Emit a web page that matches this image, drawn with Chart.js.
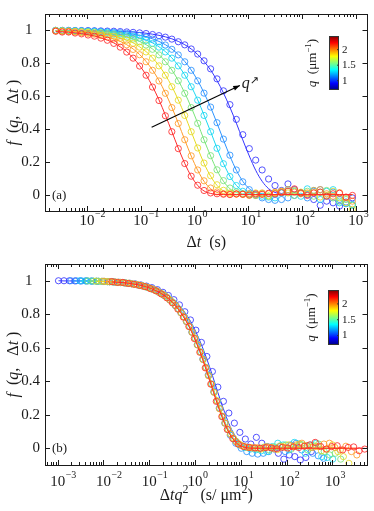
<!DOCTYPE html>
<html>
<head>
<meta charset="utf-8">
<script src="https://cdn.jsdelivr.net/npm/chart.js@4.4.0/dist/chart.umd.min.js"></script>
<style>
  html, body { margin: 0; padding: 0; background: #fff; }
  #wrap { position: relative; width: 374px; height: 511px; overflow: hidden; }
  #wrap canvas { position: absolute; left: 0; }
</style>
</head>
<body>
<div id="wrap">
  <canvas id="chart-a" style="top:0" width="374" height="262"></canvas>
  <canvas id="chart-b" style="top:250px" width="374" height="261"></canvas>
</div>
<script>
// lag times (s), shared by every q
const lagTimes = [0.00263, 0.00347, 0.00457, 0.00603, 0.00794, 0.0105, 0.0138, 0.0182, 0.0240, 0.0316,
  0.0417, 0.0550, 0.0724, 0.0955, 0.126, 0.166, 0.219, 0.288, 0.380, 0.501,
  0.661, 0.871, 1.15, 1.51, 2.00, 2.63, 3.47, 4.57, 6.03, 7.94,
  10.5, 13.8, 18.2, 24.0, 31.6, 41.7, 55.0, 72.4, 95.5, 126,
  166, 219, 288, 380, 501, 661, 871];

// wave vectors (um^-1), low to high
const qValues = [0.63, 0.86, 1.08, 1.32, 1.62, 1.98, 2.41];
const curveColors = ['#3535ff', '#2a92ff', '#1ad8f2', '#78e478', '#e6da22', '#ff9c2a', '#ff2a2a'];

// measured f(q, dt)
const fBlue = [1.000, 1.000, 1.000, 0.999, 0.999, 0.999, 0.998, 0.997, 0.996, 0.995,
  0.993, 0.991, 0.988, 0.985, 0.981, 0.975, 0.968, 0.959, 0.947, 0.931,
  0.912, 0.887, 0.856, 0.815, 0.766, 0.705, 0.632, 0.548, 0.458, 0.365,
  0.280, 0.210, 0.150, 0.095, 0.055, 0.025, 0.065, 0.030, 0.010, 0.000,
  -0.030, -0.065, -0.040, -0.050, -0.070, -0.055, -0.020];
const fLightBlue = [1.000, 1.000, 0.999, 0.999, 0.998, 0.997, 0.996, 0.994, 0.992, 0.989,
  0.986, 0.982, 0.976, 0.969, 0.959, 0.947, 0.931, 0.911, 0.885, 0.851,
  0.809, 0.757, 0.693, 0.618, 0.533, 0.438, 0.338, 0.240, 0.150, 0.078,
  0.030, 0.000, -0.020, -0.030, -0.035, -0.030, -0.020, -0.005, 0.010, -0.020,
  0.020, 0.030, -0.010, 0.015, -0.030, -0.045, -0.060];
const fCyan = [1.000, 0.999, 0.998, 0.997, 0.996, 0.994, 0.993, 0.990, 0.988, 0.984,
  0.979, 0.972, 0.964, 0.953, 0.939, 0.921, 0.898, 0.869, 0.831, 0.784,
  0.727, 0.657, 0.575, 0.482, 0.383, 0.282, 0.188, 0.110, 0.055, 0.020,
  0.004, -0.005, -0.010, -0.015, -0.020, 0.010, 0.030, 0.020, -0.010, 0.035,
  0.025, -0.030, 0.020, 0.030, -0.050, -0.055, -0.065];
const fGreen = [0.999, 0.998, 0.997, 0.996, 0.994, 0.992, 0.989, 0.986, 0.982, 0.976,
  0.969, 0.959, 0.947, 0.931, 0.911, 0.885, 0.851, 0.809, 0.757, 0.693,
  0.617, 0.530, 0.434, 0.334, 0.237, 0.151, 0.085, 0.040, 0.016, 0.006,
  0.002, -0.005, 0.006, -0.010, 0.008, 0.015, 0.020, -0.005, 0.010, 0.020,
  -0.010, 0.015, 0.025, -0.020, -0.040, -0.030, -0.065];
const fYellow = [0.998, 0.997, 0.995, 0.993, 0.991, 0.988, 0.985, 0.979, 0.973, 0.965,
  0.953, 0.940, 0.922, 0.898, 0.869, 0.831, 0.784, 0.727, 0.657, 0.575,
  0.482, 0.383, 0.284, 0.192, 0.115, 0.060, 0.026, 0.010, 0.004, 0.002,
  -0.005, 0.010, 0.005, -0.008, 0.010, 0.020, 0.010, 0.025, 0.015, 0.005,
  0.012, -0.015, -0.005, 0.020, -0.020, -0.050, -0.090];
const fOrange = [0.997, 0.994, 0.993, 0.990, 0.986, 0.982, 0.977, 0.969, 0.960, 0.948,
  0.931, 0.912, 0.884, 0.852, 0.809, 0.757, 0.692, 0.617, 0.530, 0.433,
  0.334, 0.236, 0.150, 0.084, 0.040, 0.016, 0.006, 0.002, 0.003, 0.002,
  0.006, -0.004, 0.010, 0.005, 0.015, 0.020, 0.030, 0.015, 0.005, 0.010,
  0.025, 0.030, 0.005, -0.010, 0.012, -0.020, -0.040];
const fRed = [0.995, 0.990, 0.990, 0.984, 0.979, 0.972, 0.965, 0.953, 0.940, 0.921,
  0.898, 0.868, 0.831, 0.783, 0.727, 0.655, 0.573, 0.480, 0.383, 0.280,
  0.189, 0.112, 0.057, 0.025, 0.010, 0.005, 0.002, 0.000, 0.004, 0.002,
  -0.003, 0.005, 0.001, 0.008, 0.004, 0.012, 0.020, 0.035, 0.010, -0.005,
  0.010, 0.015, -0.010, 0.005, 0.008, -0.015, -0.005];

// fitted curves at the same lag times
const fitBlue = [1.000, 0.999, 0.999, 0.999, 0.999, 0.999, 0.998, 0.998, 0.997, 0.996,
  0.994, 0.992, 0.990, 0.987, 0.983, 0.977, 0.970, 0.961, 0.949, 0.933,
  0.913, 0.887, 0.853, 0.811, 0.759, 0.695, 0.619, 0.532, 0.435, 0.333,
  0.235, 0.148, 0.081, 0.036, 0.013, 0.003, 0.001, 0, 0, 0,
  0, 0, 0, 0, 0, 0, 0];
const fitLightBlue = [0.999, 0.999, 0.999, 0.998, 0.998, 0.997, 0.996, 0.994, 0.992, 0.990,
  0.987, 0.983, 0.977, 0.970, 0.961, 0.949, 0.933, 0.913, 0.887, 0.853,
  0.811, 0.759, 0.695, 0.619, 0.532, 0.435, 0.333, 0.235, 0.148, 0.081,
  0.036, 0.013, 0.003, 0.001, 0, 0, 0, 0, 0, 0,
  0, 0, 0, 0, 0, 0, 0];
const fitCyan = [0.999, 0.998, 0.998, 0.997, 0.996, 0.995, 0.993, 0.991, 0.989, 0.985,
  0.980, 0.974, 0.966, 0.955, 0.941, 0.924, 0.900, 0.871, 0.833, 0.786,
  0.729, 0.659, 0.577, 0.484, 0.384, 0.283, 0.190, 0.112, 0.056, 0.022,
  0.007, 0.001, 0, 0, 0, 0, 0, 0, 0, 0,
  0, 0, 0, 0, 0, 0, 0];
const fitGreen = [0.998, 0.998, 0.997, 0.996, 0.994, 0.992, 0.990, 0.987, 0.983, 0.977,
  0.970, 0.961, 0.949, 0.933, 0.913, 0.887, 0.853, 0.811, 0.759, 0.695,
  0.619, 0.532, 0.435, 0.333, 0.235, 0.148, 0.081, 0.036, 0.013, 0.003,
  0.001, 0, 0, 0, 0, 0, 0, 0, 0, 0,
  0, 0, 0, 0, 0, 0, 0];
const fitYellow = [0.997, 0.996, 0.995, 0.993, 0.991, 0.989, 0.985, 0.980, 0.974, 0.966,
  0.955, 0.941, 0.924, 0.900, 0.871, 0.833, 0.786, 0.729, 0.659, 0.577,
  0.484, 0.384, 0.283, 0.190, 0.112, 0.056, 0.022, 0.007, 0.001, 0,
  0, 0, 0, 0, 0, 0, 0, 0, 0, 0,
  0, 0, 0, 0, 0, 0, 0];
const fitOrange = [0.996, 0.994, 0.992, 0.990, 0.987, 0.983, 0.977, 0.970, 0.961, 0.949,
  0.933, 0.913, 0.887, 0.853, 0.811, 0.759, 0.695, 0.619, 0.532, 0.435,
  0.333, 0.235, 0.148, 0.081, 0.036, 0.013, 0.003, 0.001, 0, 0,
  0, 0, 0, 0, 0, 0, 0, 0, 0, 0,
  0, 0, 0, 0, 0, 0, 0];
const fitRed = [0.993, 0.991, 0.989, 0.985, 0.980, 0.974, 0.966, 0.955, 0.941, 0.924,
  0.900, 0.871, 0.833, 0.786, 0.729, 0.659, 0.577, 0.484, 0.384, 0.283,
  0.190, 0.112, 0.056, 0.022, 0.007, 0.001, 0, 0, 0, 0,
  0, 0, 0, 0, 0, 0, 0, 0, 0, 0,
  0, 0, 0, 0, 0, 0, 0];

const yTicks = [0, 0.2, 0.4, 0.6, 0.8, 1];
const yLabels = ['0', '0.2', '0.4', '0.6', '0.8', '1  '];
const cbTicks = [1, 1.5, 2];
const cbLabels = ['1', '1.5', '2'];
const qRange = [0.70, 2.44];

const measured = [fBlue, fLightBlue, fCyan, fGreen, fYellow, fOrange, fRed];
const fitted = [fitBlue, fitLightBlue, fitCyan, fitGreen, fitYellow, fitOrange, fitRed];

const SERIF = "'Liberation Serif', 'Times New Roman', 'DejaVu Serif', serif";
const INK = '#1a1a1a';

function points(vals, i, scaled) {
  const s = scaled ? qValues[i] * qValues[i] : 1;
  return lagTimes.map((t, k) => ({ x: t * s, y: vals[k] }));
}

function buildDatasets(scaled) {
  const sets = [];
  // first dataset is painted last, so red goes first
  for (let i = measured.length - 1; i >= 0; i--) {
    sets.push({
      data: points(measured[i], i, scaled),
      showLine: false,
      pointRadius: 3.1,
      pointBorderWidth: 0.85,
      pointBorderColor: curveColors[i],
      pointBackgroundColor: 'rgba(0,0,0,0)'
    });
    sets.push({
      data: points(fitted[i], i, scaled),
      showLine: true,
      pointRadius: 0,
      borderWidth: 1,
      borderColor: curveColors[i],
      cubicInterpolationMode: 'monotone'
    });
  }
  return sets;
}

function logTicks(min, max) {
  const out = [];
  for (let e = Math.floor(Math.log10(min)); e <= Math.ceil(Math.log10(max)); e++) {
    for (let m = 1; m <= 9; m++) {
      const v = m * Math.pow(10, e);
      if (v >= min && v <= max) out.push({ value: v, mj: m === 1 });
    }
  }
  return out;
}

function richWidth(ctx, parts) {
  let w = 0;
  parts.forEach(p => { ctx.font = p.font; w += ctx.measureText(p.text).width; });
  return w;
}

// parts drawn one after another, centred on cx, baseline cy
function drawRich(ctx, parts, cx, cy, rot) {
  ctx.save();
  ctx.translate(cx, cy);
  if (rot) ctx.rotate(rot);
  ctx.textAlign = 'left';
  ctx.textBaseline = 'alphabetic';
  ctx.fillStyle = INK;
  let x = -richWidth(ctx, parts) / 2;
  parts.forEach(p => {
    ctx.font = p.font;
    ctx.fillText(p.text, x, p.dy || 0);
    x += ctx.measureText(p.text).width;
  });
  ctx.restore();
}

const n = s => s + 'px ' + SERIF;
const it = s => 'italic ' + s + 'px ' + SERIF;

const yTitle = [
  { text: 'f', font: it(16) }, { text: '  (', font: n(16) }, { text: 'q', font: it(16) },
  { text: ',   Δ', font: n(16) }, { text: 't', font: it(16) }, { text: ' )', font: n(16) }
];
const cbTitle = [
  { text: 'q', font: it(13) }, { text: '  (μm', font: n(13) },
  { text: '−1', font: n(9), dy: -5 }, { text: ')', font: n(13) }
];

function makeDecor(cfg) {
  return {
    id: 'decor',
    afterDatasetsDraw(chart) {
      const { ctx, chartArea: a, scales: { x, y } } = chart;
      ctx.save();
      // inward ticks and box
      ctx.strokeStyle = INK;
      ctx.lineWidth = 1;
      ctx.beginPath();
      x.ticks.forEach(t => {
        const px = Math.round(x.getPixelForValue(t.value)) + 0.5;
        const len = t.mj ? 5 : 3;
        ctx.moveTo(px, a.bottom); ctx.lineTo(px, a.bottom - len);
        ctx.moveTo(px, a.top); ctx.lineTo(px, a.top + len);
      });
      yTicks.forEach(v => {
        const py = Math.round(y.getPixelForValue(v)) + 0.5;
        ctx.moveTo(a.left, py); ctx.lineTo(a.left + 5, py);
        ctx.moveTo(a.right, py); ctx.lineTo(a.right - 5, py);
      });
      ctx.stroke();
      ctx.strokeRect(Math.round(a.left) + 0.5, Math.round(a.top) + 0.5,
        Math.round(a.right - a.left) - 1, Math.round(a.bottom - a.top));

      // x tick labels 10^n
      ctx.fillStyle = INK;
      ctx.textBaseline = 'alphabetic';
      ctx.textAlign = 'left';
      x.ticks.filter(t => t.mj).forEach(t => {
        const e = Math.round(Math.log10(t.value));
        const px = x.getPixelForValue(t.value);
        ctx.font = n(15);
        const bw = ctx.measureText('10').width;
        ctx.fillText('10', px - bw / 2, a.bottom + cfg.tickBase);
        ctx.font = n(10);
        ctx.fillText(e < 0 ? '−' + (-e) : String(e), px + bw / 2 + 0.5, a.bottom + cfg.tickBase - 8);
      });

      // axis titles
      drawRich(ctx, cfg.xTitle, (a.left + a.right) / 2, cfg.xTitleBase, 0);
      drawRich(ctx, yTitle, 18, (a.top + a.bottom) / 2, -Math.PI / 2);

      // panel tag
      ctx.font = n(13);
      ctx.fillStyle = INK;
      ctx.fillText(cfg.tag, a.left + 7, y.getPixelForValue(0) + 4);

      // colour bar (jet)
      const cb = cfg.cb;
      const g = ctx.createLinearGradient(0, cb.bottom, 0, cb.top);
      g.addColorStop(0, '#000080');
      g.addColorStop(0.125, '#0000ff');
      g.addColorStop(0.375, '#00ffff');
      g.addColorStop(0.625, '#ffff00');
      g.addColorStop(0.875, '#ff0000');
      g.addColorStop(1, '#800000');
      ctx.fillStyle = g;
      ctx.fillRect(cb.x, cb.top, cb.w, cb.bottom - cb.top);
      ctx.strokeStyle = '#333';
      ctx.strokeRect(cb.x + 0.5, cb.top + 0.5, cb.w - 1, cb.bottom - cb.top - 1);
      ctx.font = n(11);
      ctx.fillStyle = INK;
      ctx.textBaseline = 'middle';
      cbTicks.forEach((q, i) => {
        const py = cb.bottom - (q - qRange[0]) / (qRange[1] - qRange[0]) * (cb.bottom - cb.top);
        ctx.beginPath();
        ctx.moveTo(cb.x + cb.w, py); ctx.lineTo(cb.x + cb.w - 2, py);
        ctx.stroke();
        ctx.fillText(cbLabels[i], cb.x + cb.w + 3, py);
      });
      drawRich(ctx, cbTitle, cb.x - 13, (cb.top + cb.bottom) / 2, -Math.PI / 2);

      // q direction arrow
      if (cfg.arrow) {
        const ar = cfg.arrow;
        const x0 = x.getPixelForValue(ar.from[0]), y0 = y.getPixelForValue(ar.from[1]);
        const x1 = x.getPixelForValue(ar.to[0]), y1 = y.getPixelForValue(ar.to[1]);
        ctx.strokeStyle = '#000';
        ctx.lineWidth = 1.1;
        ctx.beginPath();
        ctx.moveTo(x0, y0); ctx.lineTo(x1, y1);
        ctx.stroke();
        const ang = Math.atan2(y1 - y0, x1 - x0);
        ctx.fillStyle = '#000';
        ctx.beginPath();
        ctx.moveTo(x1, y1);
        ctx.lineTo(x1 - 7 * Math.cos(ang - 0.35), y1 - 7 * Math.sin(ang - 0.35));
        ctx.lineTo(x1 - 7 * Math.cos(ang + 0.35), y1 - 7 * Math.sin(ang + 0.35));
        ctx.closePath();
        ctx.fill();
        ctx.textBaseline = 'alphabetic';
        ctx.font = it(16);
        ctx.fillStyle = INK;
        ctx.fillText('q', x1 + 2, y1 + 3);
        ctx.font = "11px 'DejaVu Sans', sans-serif";
        ctx.fillText('↗', x1 + 10, y1 - 1);
      }
      ctx.restore();
    }
  };
}

function makeChart(id, scaled, cfg) {
  return new Chart(document.getElementById(id), {
    type: 'scatter',
    data: { datasets: buildDatasets(scaled) },
    options: {
      responsive: false,
      animation: false,
      events: [],
      layout: { padding: { top: cfg.padTop, right: 6.5, left: 0, bottom: 0 } },
      plugins: { legend: { display: false }, tooltip: { enabled: false } },
      scales: {
        x: {
          type: 'logarithmic',
          min: cfg.xMin,
          max: cfg.xMax,
          grid: { display: false, drawTicks: false },
          border: { display: false },
          ticks: { display: false },
          afterBuildTicks: s => { s.ticks = logTicks(s.min, s.max); },
          afterFit: s => { s.height = cfg.axisH; }
        },
        y: {
          min: -0.1,
          max: 1.1,
          grid: { display: false, drawTicks: false },
          border: { display: false },
          ticks: {
            padding: 5,
            color: INK,
            font: { family: SERIF, size: 15 },
            callback: (v, i) => yLabels[i]
          },
          afterBuildTicks: s => { s.ticks = yTicks.map(v => ({ value: v })); },
          afterFit: s => { s.width = 45; }
        }
      }
    },
    plugins: [makeDecor(cfg)]
  });
}

makeChart('chart-a', false, {
  padTop: 11, axisH: 51, xMin: 1.66e-3, xMax: 1.66e3, tickBase: 14, xTitleBase: 247, tag: '(a)',
  xTitle: [{ text: 'Δ', font: n(16) }, { text: 't', font: it(16) }, { text: '  (s)', font: n(16) }],
  cb: { x: 329, w: 10, top: 36, bottom: 90 },
  arrow: { from: [0.16, 0.41], to: [7.0, 0.665] }
});

makeChart('chart-b', true, {
  padTop: 14, axisH: 46, xMin: 5.3e-4, xMax: 5.83e3, tickBase: 21, xTitleBase: 250, tag: '(b)',
  xTitle: [{ text: 'Δ', font: n(16) }, { text: 'tq', font: it(16) }, { text: '2', font: n(12), dy: -7 },
    { text: '   (s/ μm', font: n(16) }, { text: '2', font: n(12), dy: -7 }, { text: ')', font: n(16) }],
  cb: { x: 328, w: 11, top: 40, bottom: 95 },
  arrow: null
});
</script>
</body>
</html>
